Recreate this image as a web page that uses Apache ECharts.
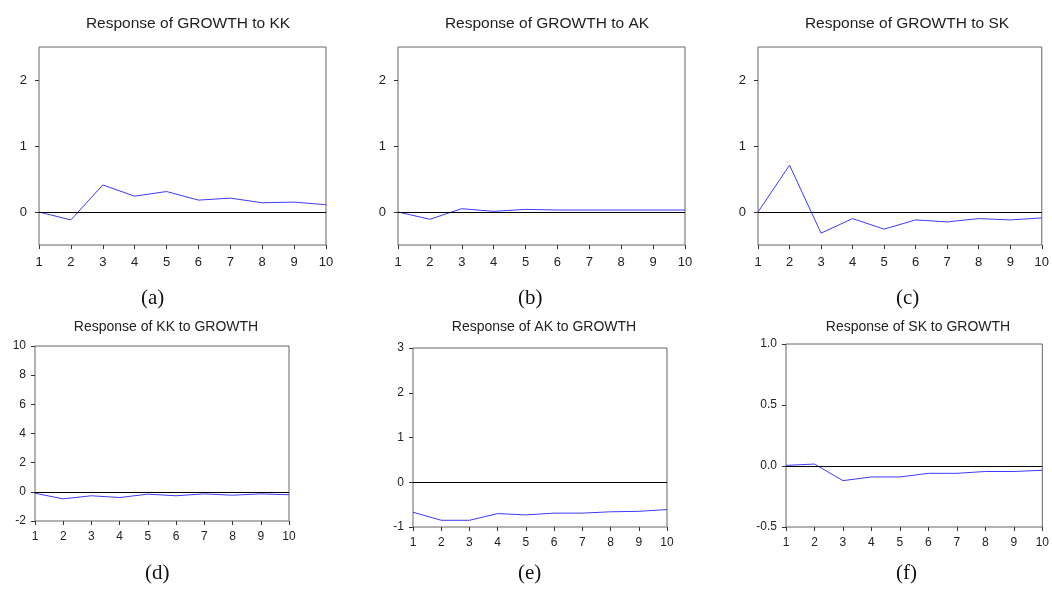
<!DOCTYPE html>
<html>
<head>
<meta charset="utf-8">
<script src="https://cdn.jsdelivr.net/npm/echarts@6/dist/echarts.min.js"></script>
<style>
  html, body { margin: 0; padding: 0; background: #fff; }
  #chart { width: 1052px; height: 589px; }
</style>
</head>
<body>
<div id="chart"></div>
<script>
// periods on the x axis
var periods = [1, 2, 3, 4, 5, 6, 7, 8, 9, 10];

// impulse responses
var growthToKK = [0, -0.12, 0.41, 0.24, 0.31, 0.18, 0.21, 0.14, 0.15, 0.11];
var growthToAK = [0, -0.11, 0.05, 0.01, 0.04, 0.03, 0.03, 0.03, 0.03, 0.03];
var growthToSK = [0, 0.71, -0.32, -0.10, -0.26, -0.12, -0.15, -0.10, -0.12, -0.09];
var kkToGrowth = [-0.10, -0.48, -0.27, -0.39, -0.16, -0.27, -0.14, -0.23, -0.14, -0.20];
var akToGrowth = [-0.67, -0.85, -0.85, -0.70, -0.73, -0.69, -0.69, -0.66, -0.65, -0.61];
var skToGrowth = [0.005, 0.016, -0.12, -0.09, -0.09, -0.06, -0.06, -0.045, -0.045, -0.035];

var titles = ['Response of GROWTH to KK', 'Response of GROWTH to AK', 'Response of GROWTH to SK',
  'Response of KK to GROWTH', 'Response of AK to GROWTH', 'Response of SK to GROWTH'];
var captions = ['(a)', '(b)', '(c)', '(d)', '(e)', '(f)'];
var topTicks = [0, 1, 2];

var panels = [
  { data: growthToKK, box: [39, 47, 287, 198], y: [-0.5, 2.5], ticks: topTicks, tx: 183, ty: 11, cx: 153, cy: 298, top: true },
  { data: growthToAK, box: [398, 47, 287, 198], y: [-0.5, 2.5], ticks: topTicks, tx: 542, ty: 11, cx: 530, cy: 298, top: true },
  { data: growthToSK, box: [758, 47, 287, 198], y: [-0.5, 2.5], ticks: topTicks, tx: 902, ty: 11, cx: 908, cy: 298, top: true },
  { data: kkToGrowth, box: [35, 346, 254, 175], y: [-2, 10], interval: 2, tx: 161, ty: 315, cx: 157, cy: 573 },
  { data: akToGrowth, box: [413, 348, 254, 179], y: [-1, 3], interval: 1, tx: 539, ty: 315, cx: 530, cy: 573 },
  { data: skToGrowth, box: [786, 344, 258, 183], y: [-0.5, 1], interval: 0.5, dec: 1, tx: 913, ty: 315, cx: 908, cy: 573 }
];

var chart = echarts.init(document.getElementById('chart'));
var option = { animation: false, title: [], grid: [], xAxis: [], yAxis: [], series: [], graphic: [] };

panels.forEach(function(p, i) {
  var fs = p.top ? 13 : 12;
  option.title.push({
    text: titles[i], left: p.tx, top: p.ty, textAlign: 'center',
    textStyle: { fontFamily: 'Liberation Sans', fontWeight: 'normal', fontSize: p.top ? 15.5 : 14, color: '#222' }
  });
  option.grid.push({
    left: p.box[0], top: p.box[1], width: p.box[2], height: p.box[3],
    show: true, borderColor: '#666', borderWidth: 1, containLabel: false
  });
  option.xAxis.push({
    type: 'value', gridIndex: i, min: 1, max: 10, interval: 1,
    axisLine: { show: false, onZero: false }, splitLine: { show: false },
    axisTick: { show: true, inside: false, length: 4, lineStyle: { color: '#333' } },
    axisLabel: { fontFamily: 'Liberation Sans', fontSize: fs, color: '#222', margin: p.top ? 11 : 10 }
  });
  var y = {
    type: 'value', gridIndex: i, min: p.y[0], max: p.y[1],
    axisLine: { show: false }, splitLine: { show: false },
    axisTick: { show: true, inside: false, length: 4, lineStyle: { color: '#333' } },
    axisLabel: { fontFamily: 'Liberation Sans', fontSize: fs, color: '#222', margin: p.top ? 12 : 9,
      formatter: function(v) { return p.dec ? v.toFixed(p.dec) : String(v); } }
  };
  if (p.ticks) {
    y.axisTick.customValues = p.ticks;
    y.axisLabel.customValues = p.ticks;
  } else {
    y.interval = p.interval;
  }
  option.yAxis.push(y);
  option.series.push({
    type: 'line', xAxisIndex: i, yAxisIndex: i,
    data: periods.map(function(x, k) { return [x, p.data[k]]; }),
    symbol: 'none', lineStyle: { color: '#3a3aff', width: 1 },
    markLine: { silent: true, symbol: 'none', label: { show: false },
      lineStyle: { color: '#000', width: 1, type: 'solid' }, data: [{ yAxis: 0 }] }
  });
  option.graphic.push({
    type: 'text', left: p.cx - 12, top: p.cy - 10,
    style: { text: captions[i], font: '21px "Liberation Serif"', fill: '#111' }
  });
});

chart.setOption(option);
</script>
</body>
</html>
